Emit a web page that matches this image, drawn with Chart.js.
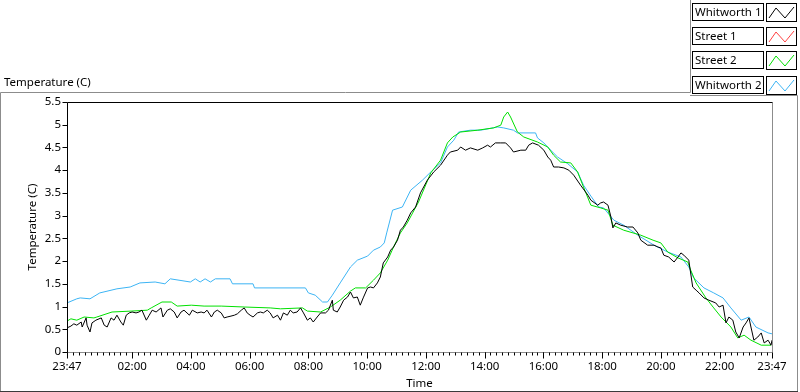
<!DOCTYPE html>
<html><head><meta charset="utf-8">
<script src="https://cdn.jsdelivr.net/npm/chart.js@4/dist/chart.umd.min.js"></script>
<style>html,body{margin:0;padding:0;background:#fff;overflow:hidden}canvas{display:block}</style>
</head><body>
<canvas id="c" width="800" height="392"></canvas>
<script>
// ---------- data ----------
const chartTitle = 'Temperature (C)';
const yAxisTitle = 'Temperature (C)';
const xAxisTitle = 'Time';
const seriesNames = ['Whitworth 1', 'Street 1', 'Street 2', 'Whitworth 2'];
const seriesColors = ['#000000', '#ff4040', '#00e000', '#3cb4f4'];
const startTime = '23:47';
const xTickLabels = ['23:47','02:00','04:00','06:00','08:00','10:00','12:00','14:00','16:00','18:00','20:00','22:00','23:47'];
const minorTickMinutes = 12;
const yMin = 0, yMax = 5.5, yStep = 0.5;

// [minutes since 23:47, temperature °C]
const whitworth1 = [
[0,0.53],[8,0.57],[14,0.62],[20,0.59],[29,0.66],[31,0.55],[39,0.75],[41,0.59],[47,0.44],[51,0.64],
[59,0.70],[70,0.75],[76,0.59],[82,0.55],[90,0.75],[96,0.70],[102,0.81],[110,0.66],[115,0.59],[121,0.81],
[127,0.86],[133,0.88],[141,0.86],[147,0.88],[153,0.92],[162,0.70],[168,0.81],[174,0.92],[182,0.88],[192,0.97],
[196,0.77],[205,0.92],[211,0.95],[219,0.88],[225,0.75],[233,0.88],[239,0.92],[250,0.81],[256,0.92],[266,0.86],
[274,0.88],[280,0.86],[286,0.92],[295,0.77],[301,0.88],[307,0.92],[315,0.86],[321,0.75],[327,0.77],[335,0.79],
[342,0.81],[348,0.84],[356,0.92],[362,0.97],[368,0.86],[374,0.81],[380,0.77],[389,0.86],[395,0.88],[401,0.86],
[409,0.92],[415,0.86],[421,0.75],[430,0.81],[436,0.70],[442,0.86],[450,0.81],[456,0.92],[462,0.86],[470,0.88],
[477,0.97],[483,0.86],[491,0.70],[497,0.75],[503,0.66],[511,0.77],[518,0.86],[528,0.86],[534,0.92],[542,1.14],
[544,0.92],[552,0.88],[558,0.99],[565,1.14],[573,1.21],[579,1.32],[585,1.19],[593,1.21],[599,1.03],[605,1.19],
[614,1.41],[620,1.43],[626,1.41],[634,1.52],[640,1.65],[646,1.96],[655,2.09],[661,2.24],[667,2.31],[675,2.46],
[681,2.68],[687,2.75],[695,2.90],[702,3.06],[712,3.19],[722,3.50],[736,3.78],[749,3.96],[763,4.11],[777,4.33],
[783,4.40],[798,4.44],[804,4.51],[814,4.44],[824,4.49],[839,4.44],[849,4.49],[859,4.55],[865,4.51],[875,4.60],
[886,4.60],[896,4.60],[906,4.49],[912,4.40],[927,4.44],[937,4.44],[943,4.55],[951,4.60],[963,4.55],[974,4.44],
[982,4.29],[988,4.22],[994,4.07],[1004,4.07],[1015,4.05],[1025,4.00],[1035,3.89],[1049,3.67],[1064,3.45],[1070,3.34],
[1084,3.23],[1090,3.28],[1096,3.30],[1105,3.23],[1111,2.97],[1115,2.73],[1121,2.84],[1131,2.79],[1145,2.75],[1156,2.75],
[1166,2.62],[1172,2.46],[1186,2.35],[1199,2.35],[1207,2.31],[1213,2.29],[1219,2.13],[1229,2.09],[1240,1.98],[1248,2.09],
[1254,2.18],[1260,2.13],[1270,2.02],[1278,1.43],[1285,1.36],[1291,1.30],[1301,1.19],[1311,1.14],[1325,1.08],[1332,0.99],
[1340,1.03],[1346,0.64],[1352,0.77],[1360,0.70],[1366,0.44],[1373,0.31],[1381,0.55],[1387,0.64],[1393,0.75],[1397,0.55],
[1403,0.26],[1411,0.33],[1418,0.42],[1424,0.20],[1432,0.26],[1438,0.15],[1440,0.26]
];
const street1 = [];
const street2 = [
[0,0.68],[8,0.73],[20,0.70],[35,0.77],[55,0.75],[61,0.77],[92,0.88],[131,0.90],[164,0.92],[172,0.97],
[194,1.10],[213,1.10],[225,1.01],[254,1.03],[280,1.01],[315,1.01],[362,0.99],[415,0.97],[436,0.95],[481,0.97],
[491,0.90],[518,0.88],[538,0.99],[558,1.14],[579,1.34],[589,1.41],[610,1.41],[626,1.58],[640,1.74],[655,2.02],
[667,2.31],[681,2.62],[695,2.84],[706,3.06],[718,3.30],[743,3.94],[763,4.22],[777,4.60],[788,4.73],[804,4.84],
[839,4.88],[871,4.93],[886,4.99],[892,5.17],[900,5.28],[906,5.17],[920,4.84],[933,4.73],[961,4.62],[982,4.51],
[994,4.33],[1008,4.18],[1029,4.16],[1043,3.96],[1055,3.63],[1070,3.23],[1090,3.17],[1105,3.12],[1115,2.79],[1137,2.68],
[1172,2.57],[1197,2.46],[1213,2.40],[1227,2.20],[1248,2.07],[1268,1.98],[1274,1.80],[1285,1.52],[1305,1.19],[1321,0.97],
[1336,0.77],[1356,0.55],[1370,0.31],[1383,0.37],[1397,0.26],[1418,0.15],[1438,0.15]
];
const whitworth2 = [
[0,1.08],[20,1.17],[27,1.19],[47,1.17],[67,1.30],[102,1.39],[129,1.43],[149,1.52],[180,1.54],[200,1.50],
[211,1.61],[252,1.54],[262,1.61],[272,1.54],[282,1.61],[293,1.54],[303,1.61],[333,1.61],[338,1.50],[380,1.50],
[383,1.41],[487,1.41],[493,1.30],[507,1.25],[522,1.10],[532,1.10],[542,1.25],[558,1.52],[579,1.87],[593,2.02],
[614,2.11],[626,2.24],[640,2.31],[648,2.40],[653,2.62],[665,3.12],[685,3.19],[702,3.56],[726,3.78],[743,3.96],
[763,4.16],[777,4.51],[790,4.66],[800,4.84],[824,4.88],[845,4.88],[880,4.95],[892,4.93],[912,4.88],[920,4.82],
[957,4.82],[961,4.71],[974,4.60],[988,4.44],[1002,4.29],[1023,4.14],[1043,3.96],[1055,3.67],[1070,3.43],[1086,3.19],
[1096,3.17],[1117,2.90],[1137,2.79],[1166,2.57],[1199,2.35],[1227,2.20],[1254,2.09],[1270,1.87],[1280,1.63],[1301,1.41],
[1321,1.30],[1340,1.19],[1356,0.97],[1377,0.70],[1393,0.77],[1407,0.55],[1432,0.42],[1440,0.40]
];
const seriesData = [whitworth1, street1, street2, whitworth2];

// ---------- helpers ----------
function clockToMin(s){const [h,m]=s.split(':').map(Number);return h*60+m;}
const startMin = clockToMin(startTime);
const xTickValues = xTickLabels.map((l,i)=> i===xTickLabels.length-1 ? 1440 : ((clockToMin(l)-startMin+1440)%1440));
const FONT = '"Noto Sans", "Open Sans", sans-serif';
const FS = 11.5;
Chart.defaults.font.family = FONT;
Chart.defaults.font.size = FS;
Chart.defaults.color = '#000';

const frame = {
  id:'frame',
  afterDraw(chart){
    const c = chart.ctx, a = chart.chartArea;
    const xs = chart.scales.x, ys = chart.scales.y;
    c.save();
    c.lineWidth = 1;
    // outer frame
    c.strokeStyle = '#8c8c8c';
    c.beginPath();
    c.moveTo(0.5, 391); c.lineTo(0.5, 92.5); c.lineTo(690.5, 92.5); c.lineTo(690.5, 0);
    c.moveTo(690, 95.5); c.lineTo(797.5, 95.5); c.lineTo(797.5, 391);
    c.stroke();
    c.strokeStyle = '#3a3a3a';
    c.beginPath(); c.moveTo(0, 391.5); c.lineTo(798, 391.5); c.stroke();
    // plot borders
    const L = Math.round(a.left)+0.5, R = Math.round(a.right)+0.5, T = Math.round(a.top)+0.5, B = Math.round(a.bottom)+0.5;
    c.strokeStyle = '#8c8c8c';
    c.beginPath(); c.moveTo(L, B); c.lineTo(R, B); c.lineTo(R, T); c.stroke();
    c.strokeStyle = '#000';
    c.beginPath(); c.moveTo(L, B); c.lineTo(L, T); c.lineTo(R, T); c.stroke();
    // y ticks
    c.strokeStyle = '#000';
    c.beginPath();
    ys.ticks.forEach(t=>{const y=Math.round(ys.getPixelForValue(t.value))+0.5; c.moveTo(L-5,y); c.lineTo(L,y);});
    c.stroke();
    // x ticks: minor + major
    c.beginPath();
    const zeroOff = (1440 - startMin) % minorTickMinutes;
    for(let m=zeroOff - minorTickMinutes; m<=1440; m+=minorTickMinutes){
      if(m<0) continue;
      const x=Math.round(xs.getPixelForValue(m))+0.5; c.moveTo(x,B); c.lineTo(x,B+3);
    }
    xTickValues.forEach(v=>{const x=Math.round(xs.getPixelForValue(v))+0.5; c.moveTo(x,B); c.lineTo(x,B+6);});
    c.stroke();
    // top-left title
    c.fillStyle = '#000';
    c.font = FS + 'px ' + FONT;
    c.textBaseline = 'middle'; c.textAlign = 'left';
    c.fillText(chartTitle, 4, 83);
    // legend
    chart.data.datasets.forEach((ds,i)=>{
      const top = 3 + Math.round(i*24.2);
      c.strokeStyle = '#000';
      c.strokeRect(692.5, top+0.5, 71, 17);
      c.strokeRect(766.5, top+0.5, 30, 18);
      c.fillStyle = '#000';
      c.fillText(ds.label, 695, top+9.5);
      c.strokeStyle = ds.borderColor;
      c.beginPath();
      c.moveTo(769, top+15); c.lineTo(776, top+5); c.lineTo(785, top+15); c.lineTo(794, top+4);
      c.stroke();
    });
    c.restore();
  }
};

new Chart(document.getElementById('c'), {
  type:'line',
  data:{
    datasets: seriesNames.map((n,i)=>({
      label:n,
      data: seriesData[i].map(p=>({x:p[0], y:p[1]})),
      borderColor: seriesColors[i],
      backgroundColor: seriesColors[i],
      borderWidth:1, pointRadius:0, tension:0, fill:false
    }))
  },
  options:{
    responsive:false, animation:false,
    layout:{padding:{top:102, right:28, bottom:0, left:0}},
    plugins:{legend:{display:false}, tooltip:{enabled:false}},
    scales:{
      x:{
        type:'linear', min:0, max:1440,
        afterBuildTicks(s){ s.ticks = xTickValues.map(v=>({value:v})); },
        afterFit(s){ s.height = 40; },
        ticks:{ autoSkip:false, maxRotation:0, padding:8, color:'#000',
          callback:(v,i)=> xTickLabels[i] },
        grid:{display:false, drawTicks:false},
        border:{display:false},
        title:{display:true, text:xAxisTitle, color:'#000', padding:{top:0,bottom:1}}
      },
      y:{
        min:yMin, max:yMax,
        afterFit(s){ s.width = 67; },
        ticks:{ stepSize:yStep, padding:6, color:'#000', callback:(v)=> String(Math.round(v*10)/10) },
        grid:{display:false, drawTicks:false},
        border:{display:false},
        title:{display:true, text:yAxisTitle, color:'#000', padding:{top:26,bottom:0}}
      }
    }
  },
  plugins:[frame]
});
</script>
</body></html>
